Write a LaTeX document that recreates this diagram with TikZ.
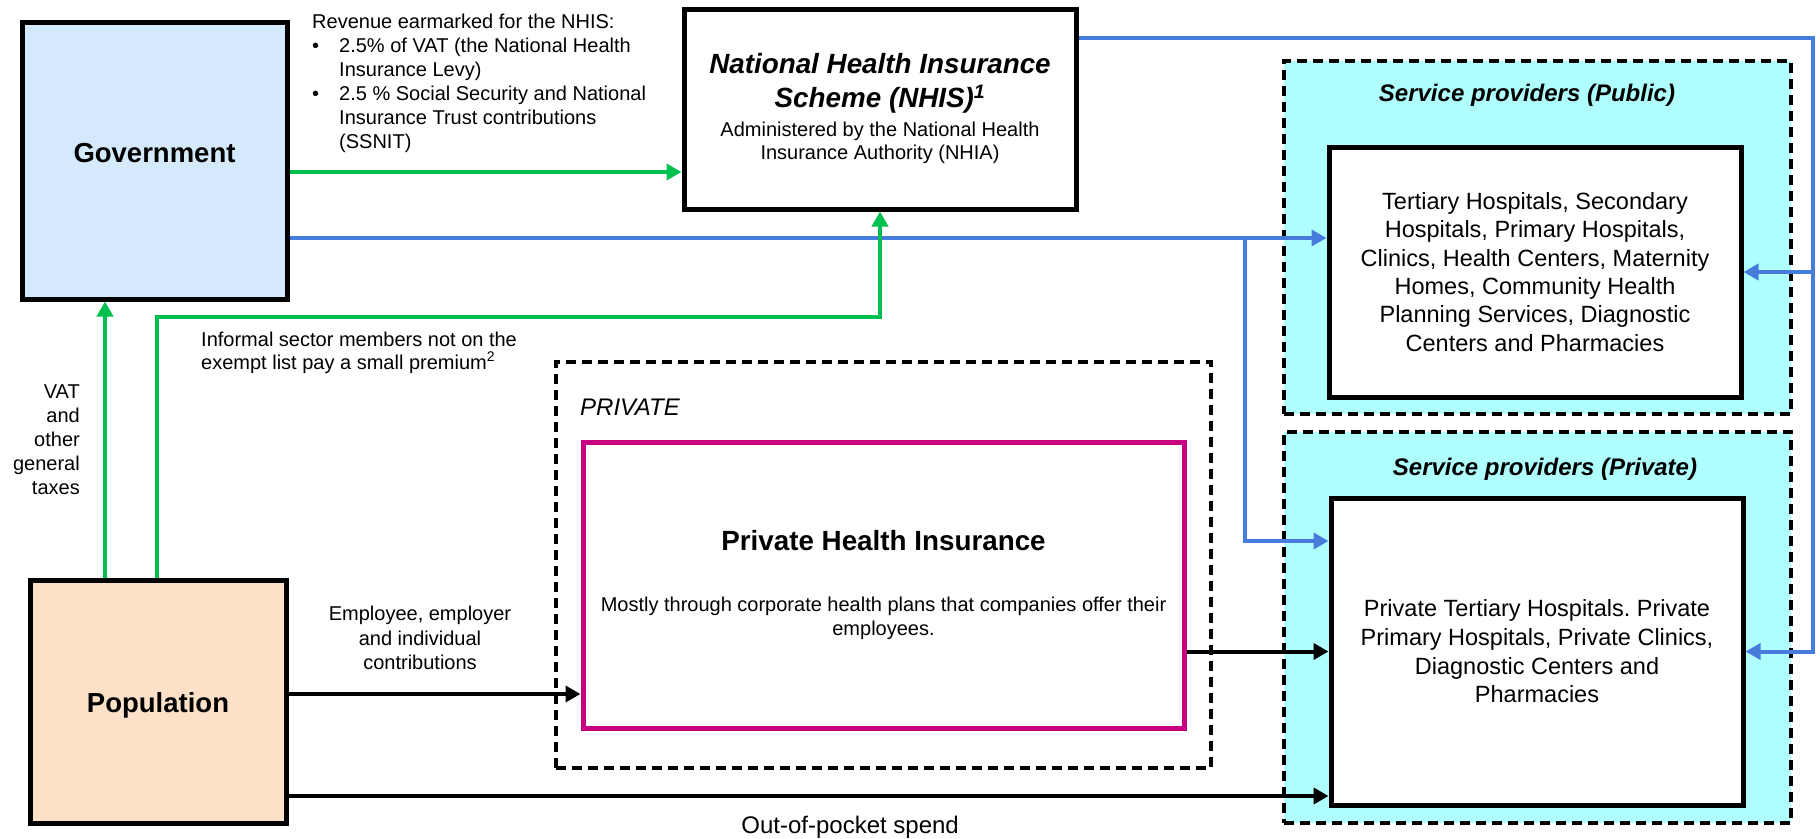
\documentclass[tikz,border=0pt]{standalone}
\usepackage{fontspec}
\setmainfont{Liberation Sans}
\usetikzlibrary{arrows.meta,positioning}

\definecolor{govblue}{RGB}{212,234,252}
\definecolor{poppeach}{RGB}{252,224,200}
\definecolor{spcyan}{RGB}{176,255,255}
\definecolor{flowgreen}{RGB}{0,192,80}
\definecolor{flowblue}{RGB}{72,124,220}
\definecolor{phimagenta}{RGB}{198,0,126}

\newcommand{\setfs}[2]{\fontsize{#1}{#2}\selectfont}
\newcommand{\titlefont}{\setfs{27.8}{30}\bfseries}

\begin{document}
\begin{tikzpicture}
		[x=1pt,y=-1pt,
		main box/.style={draw,rectangle,line width=5pt,inner sep=0pt,align=center},
		group box/.style={draw,rectangle,line width=4pt,dash pattern=on 10pt off 6pt,inner sep=0pt},
		flow/.style={line width=4pt,-{Triangle[length=15pt,width=16pt]}},
		note/.style={inner sep=0pt,font=\setfs{20}{24}}]
		
		\useasboundingbox[fill=white] (0,0) rectangle (1820,838);
		
		% service provider groups
		\node[group box,fill=spcyan,minimum width=507pt,minimum height=353pt] (pubsp) at (1537.5,237.5) {};
		\node[group box,fill=spcyan,minimum width=507pt,minimum height=391pt] (privsp) at (1537.5,627.5) {};
		\node[inner sep=0pt,font=\bfseries\itshape\setfs{24}{28}] (pubtitle) at (1527,95) {Service providers (Public)};
		\node[inner sep=0pt,font=\bfseries\itshape\setfs{24}{28}] (privtitle) at (1545,469) {Service providers (Private)};
		
		\node[main box,fill=white,minimum width=412pt,minimum height=250pt,font=\setfs{23.5}{28.3}] (pubin) at (1535,272)
		{Tertiary Hospitals, Secondary\\ Hospitals, Primary Hospitals,\\ Clinics, Health Centers, Maternity\\ Homes, Community Health\\ Planning Services, Diagnostic\\ Centers and Pharmacies};
		\node[main box,fill=white,minimum width=412pt,minimum height=307pt,font=\setfs{23.5}{28.7}] (privin) at (1537,651.5)
		{Private Tertiary Hospitals.\ Private\\ Primary Hospitals, Private Clinics,\\ Diagnostic Centers and\\ Pharmacies};
		
		% private insurance
		\node[group box,minimum width=655pt,minimum height=406pt] (privgrp) at (883.5,565) {};
		\node[anchor=west,inner sep=0pt,font=\itshape\setfs{24}{28}] (privlabel) at (580,407) {PRIVATE};
		\node[main box,draw=phimagenta,fill=white,minimum width=601pt,minimum height=286pt,font=\setfs{20}{24}] (phi) at (883.5,585)
		{{\titlefont Private Health Insurance}\\[37pt] Mostly through corporate health plans that companies offer their\\ employees.};
		
		% government, NHIS, population
		\node[main box,fill=govblue,minimum width=265pt,minimum height=277pt,text depth=16pt,font=\bfseries\setfs{27.5}{33}] (gov) at (154.5,160.5) {Government};
		\node[main box,fill=white,minimum width=392pt,minimum height=200pt,font=\setfs{20}{23}] (nhis) at (880,109)
		{{\titlefont\itshape National Health Insurance}\\[11pt] {\titlefont\itshape Scheme (NHIS)\textsuperscript{1}}\\[6pt] Administered by the National Health\\ Insurance Authority (NHIA)};
		\node[main box,fill=poppeach,minimum width=256pt,minimum height=243pt,text height=27pt,font=\bfseries\setfs{27.5}{33}] (pop) at (158,701.5) {Population};
		
		\coordinate (toprow) at (0,38);
		\coordinate (revrow) at (0,172);
		\coordinate (pubrow) at (0,238);
		\coordinate (premrow) at (0,317);
		\coordinate (privrow) at (0,541);
		\coordinate (controw) at (0,694);
		\coordinate (oopsrow) at (0,796);
		\coordinate (taxx) at (105,0);
		\coordinate (premx) at (157,0);
		\coordinate (tapx) at (1245,0);
		\coordinate (railx) at (1813,0);
		
		% blue flows
		\draw[flow,flowblue] (gov.east |- pubrow) -- (pubin.west |- pubrow);
		\draw[flow,flowblue] (tapx |- pubrow) |- (privin.west |- privrow);
		\draw[flow,flowblue] (nhis.east |- toprow) -| (railx |- privin.east) -- (privin.east);
		\draw[flow,flowblue] (railx |- pubin.east) -- (pubin.east);
		
		% green flows
		\draw[flow,flowgreen] (gov.east |- revrow) -- (nhis.west |- revrow);
		\draw[flow,flowgreen] (taxx |- pop.north) -- (taxx |- gov.south);
		\draw[flow,flowgreen] (premx |- pop.north) |- (premrow -| nhis.south) -- (nhis.south);
		
		% black flows
		\draw[flow] (pop.east |- controw) -- (phi.west |- controw);
		\draw[flow] (privin.west -| phi.east) -- (privin.west);
		\draw[flow] (pop.east |- oopsrow) -- node[pos=.54,below=18pt,inner sep=0pt,font=\setfs{24}{28}] (oopslabel) {Out-of-pocket spend} (privin.west |- oopsrow);
		
		% flow notes
		\node[note,anchor=north west,align=left] (revnote) at (312,14)
		{Revenue earmarked for the NHIS:\\ \makebox[27pt][l]{\textbullet}2.5\% of VAT (the National Health\\ \hspace*{27pt}Insurance Levy)\\ \makebox[27pt][l]{\textbullet}2.5 \% Social Security and National\\ \hspace*{27pt}Insurance Trust contributions\\ \hspace*{27pt}(SSNIT)};
		\node[note,anchor=west,align=left,font=\setfs{20}{23}] (premnote) at (201,352.5)
		{Informal sector members not on the\\ exempt list pay a small premium\textsuperscript{2}};
		\node[note,anchor=east,align=right] (taxnote) at (80,440) {VAT\\ and\\ other\\ general\\ taxes};
		\node[note,align=center,font=\setfs{20}{24.5}] (contnote) at (420,638) {Employee, employer\\ and individual\\ contributions};
		
\end{tikzpicture}
\end{document}
